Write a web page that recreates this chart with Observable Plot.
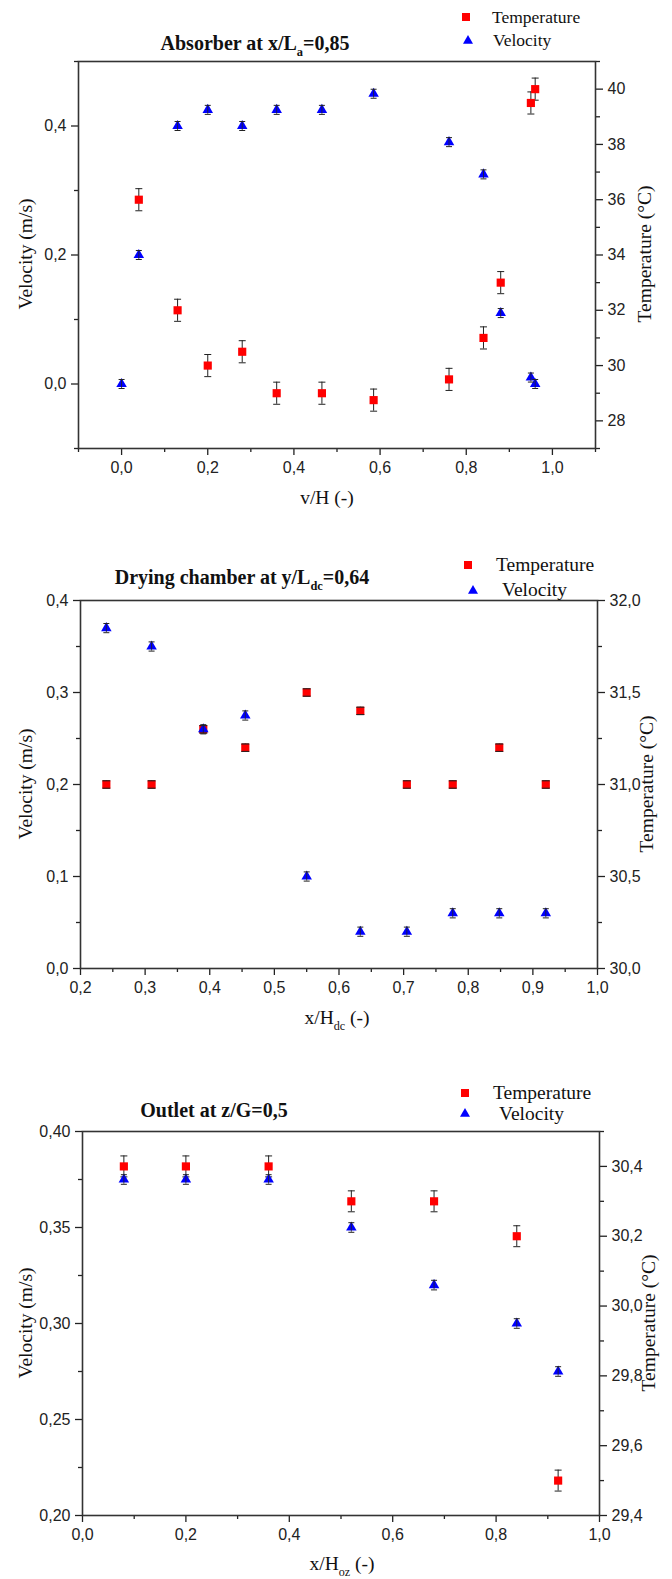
<!DOCTYPE html>
<html>
<head>
<meta charset="utf-8">
<script src="https://cdn.jsdelivr.net/npm/d3@7"></script>
<script src="https://cdn.jsdelivr.net/npm/@observablehq/plot@0.6"></script>
<style>
  body { margin: 0; background: #fff; }
  #root { position: relative; width: 672px; height: 1579px; overflow: hidden; background: #fff; }
  .panel { position: absolute; left: 0; }
  #overlay { position: absolute; left: 0; top: 0; pointer-events: none; }
</style>
</head>
<body>
<div id="root"></div>
<script>
// ---------- Panel 1: Absorber at x/La = 0,85 ----------
const absVelX = [0, 0.04, 0.13, 0.2, 0.28, 0.36, 0.465, 0.585, 0.76, 0.84, 0.88, 0.95, 0.96];
const absVel  = [0, 0.2, 0.4, 0.425, 0.4, 0.425, 0.425, 0.45, 0.375, 0.325, 0.11, 0.01, 0.0];
const absVelErr = [0.007, 0.007, 0.007, 0.007, 0.007, 0.007, 0.007, 0.007, 0.007, 0.007, 0.007, 0.007, 0.007];
const absTempX = [0.04, 0.13, 0.2, 0.28, 0.36, 0.465, 0.585, 0.76, 0.84, 0.88, 0.95, 0.96];
const absTemp  = [36.0, 32.0, 30.0, 30.5, 29.0, 29.0, 28.75, 29.5, 31.0, 33.0, 39.5, 40.0];
const absTempErr = [0.4, 0.4, 0.4, 0.4, 0.4, 0.4, 0.4, 0.4, 0.4, 0.4, 0.4, 0.4];
const absXTicks = [0, 0.2, 0.4, 0.6, 0.8, 1.0];
const absXMinor = [-0.1, 0.1, 0.3, 0.5, 0.7, 0.9, 1.1];
const absVTicks = [0, 0.2, 0.4];
const absVMinor = [-0.1, 0.1, 0.3, 0.5];
const absTTicks = [28, 30, 32, 34, 36, 38, 40];
const absTMinor = [27, 29, 31, 33, 35, 37, 39, 41];

// ---------- Panel 2: Drying chamber at y/Ldc = 0,64 ----------
const dryX    = [0.24, 0.31, 0.39, 0.455, 0.55, 0.633, 0.705, 0.776, 0.848, 0.92];
const dryVel  = [0.37, 0.35, 0.26, 0.275, 0.1, 0.04, 0.04, 0.06, 0.06, 0.06];
const dryVelErr = [0.005, 0.005, 0.005, 0.005, 0.005, 0.005, 0.005, 0.005, 0.005, 0.005];
const dryTemp = [31.0, 31.0, 31.3, 31.2, 31.5, 31.4, 31.0, 31.0, 31.2, 31.0];
const dryTempErr = [0.02, 0.02, 0.02, 0.02, 0.02, 0.02, 0.02, 0.02, 0.02, 0.02];
const dryXTicks = [0.2, 0.3, 0.4, 0.5, 0.6, 0.7, 0.8, 0.9, 1.0];
const dryXMinor = [0.25, 0.35, 0.45, 0.55, 0.65, 0.75, 0.85, 0.95];
const dryVTicks = [0, 0.1, 0.2, 0.3, 0.4];
const dryVMinor = [0.05, 0.15, 0.25, 0.35];
const dryTTicks = [30.0, 30.5, 31.0, 31.5, 32.0];
const dryTMinor = [30.25, 30.75, 31.25, 31.75];

// ---------- Panel 3: Outlet at z/G = 0,5 ----------
const outX    = [0.08, 0.2, 0.36, 0.52, 0.68, 0.84, 0.92];
const outVel  = [0.375, 0.375, 0.375, 0.35, 0.32, 0.30, 0.275];
const outVelErr = [0.0025, 0.0025, 0.0025, 0.0025, 0.0025, 0.0025, 0.0025];
const outTemp = [30.4, 30.4, 30.4, 30.3, 30.3, 30.2, 29.5];
const outTempErr = [0.03, 0.03, 0.03, 0.03, 0.03, 0.03, 0.03];
const outXTicks = [0, 0.2, 0.4, 0.6, 0.8, 1.0];
const outXMinor = [0.1, 0.3, 0.5, 0.7, 0.9];
const outVTicks = [0.20, 0.25, 0.30, 0.35, 0.40];
const outVMinor = [0.225, 0.275, 0.325, 0.375];
const outTTicks = [29.4, 29.6, 29.8, 30.0, 30.2, 30.4];
const outTMinor = [29.5, 29.7, 29.9, 30.1, 30.3, 30.5];

const RED = "#ff0000", BLUE = "#0000ff", INK = "#222";
const comma = spec => v => d3.format(spec)(v).replace(".", ",");
const capSymbol = { draw(ctx, size) { const r = Math.sqrt(size / Math.PI); ctx.moveTo(-r, 0); ctx.lineTo(r, 0); } };

function makePanel(c) {
  const [v0, v1] = c.vDomain, [t0, t1] = c.tDomain;
  const toV = t => v0 + (t - t0) / (t1 - t0) * (v1 - v0);
  const toT = v => t0 + (v - v0) / (v1 - v0) * (t1 - t0);
  const vel = c.velX.map((x, i) => ({x, v: c.vel[i], e: c.velErr[i]}));
  const tmp = c.tempX.map((x, i) => ({x, t: c.temp[i], e: c.tempErr[i]}));
  const chart = Plot.plot({
    width: 672, height: c.height,
    marginLeft: c.L, marginRight: 672 - c.R, marginTop: c.mT, marginBottom: c.height - c.mT - (c.B - c.T),
    x: {domain: c.xDomain},
    y: {domain: c.vDomain},
    style: {fontFamily: "'Liberation Sans', Arial, sans-serif", fontSize: "16px", color: INK, background: "transparent", overflow: "visible"},
    marks: [
      Plot.axisX({ticks: c.xTicks, tickSize: 7, tickPadding: 6, tickFormat: comma(c.xFmt), label: null, strokeWidth: 1.3}),
      Plot.axisX({ticks: c.xMinor, tickSize: 4, tickFormat: () => "", label: null, strokeWidth: 1.3}),
      Plot.axisY({ticks: c.vTicks, tickSize: 7, tickPadding: 5, tickFormat: comma(c.vFmt), label: null, strokeWidth: 1.3}),
      Plot.axisY({ticks: c.vMinor, tickSize: 4, tickFormat: () => "", label: null, strokeWidth: 1.3}),
      Plot.axisY({anchor: "right", ticks: c.tTicks.map(toV), tickSize: 7, tickPadding: 5,
                  tickFormat: v => comma(c.tFmt)(toT(v)), label: null, strokeWidth: 1.3}),
      Plot.axisY({anchor: "right", ticks: c.tMinor.map(toV), tickSize: 4, tickFormat: () => "", label: null, strokeWidth: 1.3}),
      Plot.frame({stroke: "#333", strokeWidth: 1.6}),
      // temperature error bars + squares
      Plot.ruleX(tmp, {x: "x", y1: d => toV(d.t - d.e), y2: d => toV(d.t + d.e), stroke: INK, strokeWidth: 1}),
      Plot.dot(tmp, {x: "x", y: d => toV(d.t - d.e), symbol: capSymbol, r: 3.5, stroke: INK, fill: "none", strokeWidth: 1}),
      Plot.dot(tmp, {x: "x", y: d => toV(d.t + d.e), symbol: capSymbol, r: 3.5, stroke: INK, fill: "none", strokeWidth: 1}),
      Plot.dot(tmp, {x: "x", y: d => toV(d.t), symbol: "square", r: 4.6, fill: RED, stroke: "none"}),
      // velocity triangles + error bars
      Plot.dot(vel, {x: "x", y: "v", symbol: "triangle", r: 3.9, fill: BLUE, stroke: "none"}),
      Plot.ruleX(vel, {x: "x", y1: d => d.v - d.e, y2: d => d.v + d.e, stroke: INK, strokeWidth: 0.8}),
      Plot.dot(vel, {x: "x", y: d => d.v - d.e, symbol: capSymbol, r: 3, stroke: INK, fill: "none", strokeWidth: 1}),
      Plot.dot(vel, {x: "x", y: d => d.v + d.e, symbol: capSymbol, r: 3, stroke: INK, fill: "none", strokeWidth: 1}),
      // small overlay of temperature caps on top of squares (visible when error is tiny)
      Plot.dot(tmp.filter(d => d.e < 0.1 && c.capsOnTop), {x: "x", y: d => toV(d.t - d.e), symbol: capSymbol, r: 4, stroke: INK, fill: "none", strokeWidth: 1}),
      Plot.dot(tmp.filter(d => d.e < 0.1 && c.capsOnTop), {x: "x", y: d => toV(d.t + d.e), symbol: capSymbol, r: 4, stroke: INK, fill: "none", strokeWidth: 1})
    ]
  });
  chart.classList.add("panel");
  chart.style.top = (c.T - c.mT) + "px";
  return chart;
}

const root = document.getElementById("root");

const panels = [
  {T: 61, B: 448, L: 78, R: 595, mT: 10, height: 442,
   xDomain: [-0.1, 1.1], vDomain: [-0.1, 0.5], tDomain: [27, 41],
   velX: absVelX, vel: absVel, velErr: absVelErr, tempX: absTempX, temp: absTemp, tempErr: absTempErr,
   xTicks: absXTicks, xMinor: absXMinor, xFmt: ".1f", vTicks: absVTicks, vMinor: absVMinor, vFmt: ".1f",
   tTicks: absTTicks, tMinor: absTMinor, tFmt: "d", capsOnTop: false},
  {T: 600, B: 968, L: 80, R: 597, mT: 10, height: 423,
   xDomain: [0.2, 1.0], vDomain: [0, 0.4], tDomain: [30, 32],
   velX: dryX, vel: dryVel, velErr: dryVelErr, tempX: dryX, temp: dryTemp, tempErr: dryTempErr,
   xTicks: dryXTicks, xMinor: dryXMinor, xFmt: ".1f", vTicks: dryVTicks, vMinor: dryVMinor, vFmt: ".1f",
   tTicks: dryTTicks, tMinor: dryTMinor, tFmt: ".1f", capsOnTop: true},
  {T: 1131, B: 1515, L: 82, R: 599, mT: 10, height: 439,
   xDomain: [0, 1.0], vDomain: [0.2, 0.4], tDomain: [29.4, 30.5],
   velX: outX, vel: outVel, velErr: outVelErr, tempX: outX, temp: outTemp, tempErr: outTempErr,
   xTicks: outXTicks, xMinor: outXMinor, xFmt: ".1f", vTicks: outVTicks, vMinor: outVMinor, vFmt: ".2f",
   tTicks: outTTicks, tMinor: outTMinor, tFmt: ".1f", capsOnTop: false}
];
panels.forEach(p => root.appendChild(makePanel(p)));

// ---------- Titles, legends, axis titles ----------
const ov = d3.select(root).append("svg").attr("id", "overlay").attr("width", 672).attr("height", 1579);
const SERIF = "'Liberation Serif', 'Times New Roman', serif";

function richText(x, y, parts, {size, bold = false, anchor = "start", rotate = false}) {
  const t = ov.append("text")
    .attr("font-family", SERIF).attr("font-size", size).attr("fill", "#111")
    .attr("font-weight", bold ? "bold" : "normal").attr("text-anchor", anchor);
  if (rotate) t.attr("transform", `translate(${x},${y}) rotate(-90)`);
  else t.attr("x", x).attr("y", y);
  let shift = 0;
  parts.forEach(([s, sub]) => {
    const sp = t.append("tspan").text(s);
    if (sub) { sp.attr("font-size", size * 0.62).attr("dy", size * 0.3 - shift); shift = size * 0.3; }
    else { sp.attr("dy", -shift); shift = 0; }
  });
}

function legend(sx, sy, tx, ty1, ty2, tri, size) {
  ov.append("rect").attr("x", sx - 4).attr("y", sy - 4).attr("width", 8).attr("height", 8).attr("fill", RED);
  ov.append("path").attr("d", `M${tri[0]},${tri[1] - 5} L${tri[0] + 5},${tri[1] + 3.7} L${tri[0] - 5},${tri[1] + 3.7} Z`).attr("fill", BLUE);
  richText(tx, ty1, [["Temperature"]], {size});
  richText(tx + (size > 18 ? 6 : 1), ty2, [["Velocity"]], {size});
}

// Panel 1
richText(255, 50, [["Absorber at x/L"], ["a", true], ["=0,85"]], {size: 20, bold: true, anchor: "middle"});
legend(466, 17, 492, 23, 46, [468, 40], 17.5);
richText(327, 504, [["v/H (-)"]], {size: 19.5, anchor: "middle"});
richText(32, 254, [["Velocity (m/s)"]], {size: 19.5, anchor: "middle", rotate: true});
richText(651, 254, [["Temperature (°C)"]], {size: 19.5, anchor: "middle", rotate: true});

// Panel 2
richText(242, 584, [["Drying chamber at y/L"], ["dc", true], ["=0,64"]], {size: 20, bold: true, anchor: "middle"});
legend(468, 565, 496, 571, 596, [473, 590], 19.5);
richText(337, 1024, [["x/H"], ["dc", true], [" (-)"]], {size: 19.5, anchor: "middle"});
richText(32, 784, [["Velocity (m/s)"]], {size: 19.5, anchor: "middle", rotate: true});
richText(653, 784, [["Temperature (°C)"]], {size: 19.5, anchor: "middle", rotate: true});

// Panel 3
richText(214, 1117, [["Outlet at z/G=0,5"]], {size: 20, bold: true, anchor: "middle"});
legend(465, 1093, 493, 1099, 1120, [465, 1113], 19.5);
richText(342, 1570, [["x/H"], ["oz", true], [" (-)"]], {size: 19.5, anchor: "middle"});
richText(32, 1323, [["Velocity (m/s)"]], {size: 19.5, anchor: "middle", rotate: true});
richText(655, 1323, [["Temperature (°C)"]], {size: 19.5, anchor: "middle", rotate: true});
</script>
</body>
</html>
